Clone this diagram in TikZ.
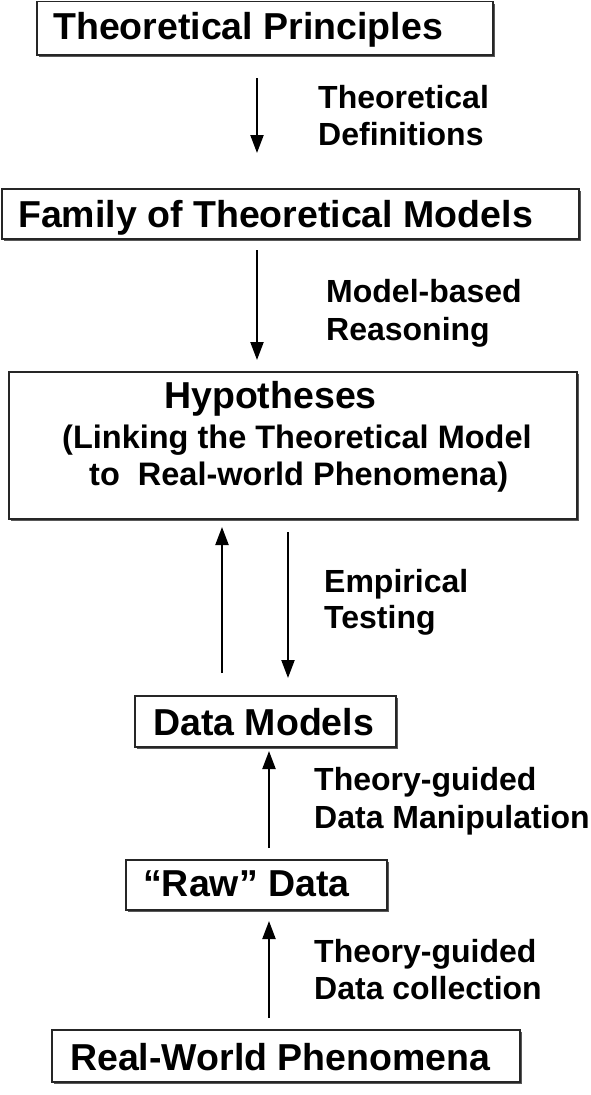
\documentclass[tikz,border=0pt]{standalone}
\usepackage{fontspec}
\setmainfont{Liberation Sans}
\usetikzlibrary{arrows.meta}
\begin{document}
\begin{tikzpicture}[x=1pt,y=-1pt,
  boxtext/.style={inner sep=0pt,anchor=base west,font=\bfseries\fontsize{37.5}{40}\selectfont},
  subtext/.style={inner sep=0pt,anchor=base west,font=\bfseries\fontsize{32.5}{36}\selectfont},
  lbl/.style={inner sep=0pt,anchor=base west,font=\bfseries\fontsize{32}{36}\selectfont},
  arr/.style={line width=2.2pt,-{Triangle[length=18pt,width=13pt]}},
]
\useasboundingbox (0,0) rectangle (591,1095);
\newcommand{\mybox}[5]{%
  \fill[black!65] (#2+2,#3+2) rectangle (#4+2,#5+2);
  \node[draw=black!85,line width=1.3pt,fill=white,inner sep=0pt,
    minimum width={#4-#2},minimum height={#5-#3}] (#1) at ({(#2+#4)/2},{(#3+#5)/2}) {};
}
\mybox{b1}{37}{1.5}{493}{55}
\mybox{b2}{2}{189}{579}{239}
\mybox{b3}{9}{372}{577}{519}
\mybox{b4}{135}{696}{396}{747}
\mybox{b5}{126}{860}{387}{910}
\mybox{b6}{52}{1030}{520}{1082}

\node[boxtext] (t1) at (53,39) {Theoretical Principles};
\node[boxtext] (t2) at (18,227) {Family of Theoretical Models};
\node[boxtext] (t3) at (164,408) {Hypotheses};
\node[subtext] (t3b) at (62,448) {(Linking the Theoretical Model};
\node[subtext] (t3c) at (89,485) {to~~Real-world Phenomena)};
\node[boxtext] (t4) at (153,735) {Data Models};
\node[boxtext] (t5) at (143,896) {“Raw” Data};
\node[boxtext] (t6) at (70,1070) {Real-World Phenomena};

\node[lbl] (l1a) at (318,108) {Theoretical};
\node[lbl] (l1b) at (318,145) {Definitions};
\node[lbl] (l2a) at (326,302) {Model-based};
\node[lbl] (l2b) at (326,340) {Reasoning};
\node[lbl] (l3a) at (324,592) {Empirical};
\node[lbl] (l3b) at (324,628) {Testing};
\node[lbl] (l4a) at (314,790) {Theory-guided};
\node[lbl] (l4b) at (314,828) {Data Manipulation};
\node[lbl] (l5a) at (314,962) {Theory-guided};
\node[lbl] (l5b) at (314,999) {Data collection};

\coordinate (a1s) at (257,78);  \coordinate (a1e) at (257,153);
\coordinate (a2s) at (257,250); \coordinate (a2e) at (257,360);
\coordinate (a3s) at (222,673); \coordinate (a3e) at (222,527);
\coordinate (a4s) at (288,532); \coordinate (a4e) at (288,678);
\coordinate (a5s) at (269,848); \coordinate (a5e) at (269,751);
\coordinate (a6s) at (269,1018);\coordinate (a6e) at (269,921);
\draw[arr] (a1s) -- (a1e);
\draw[arr] (a2s) -- (a2e);
\draw[arr] (a3s) -- (a3e);
\draw[arr] (a4s) -- (a4e);
\draw[arr] (a5s) -- (a5e);
\draw[arr] (a6s) -- (a6e);
\end{tikzpicture}
\end{document}
